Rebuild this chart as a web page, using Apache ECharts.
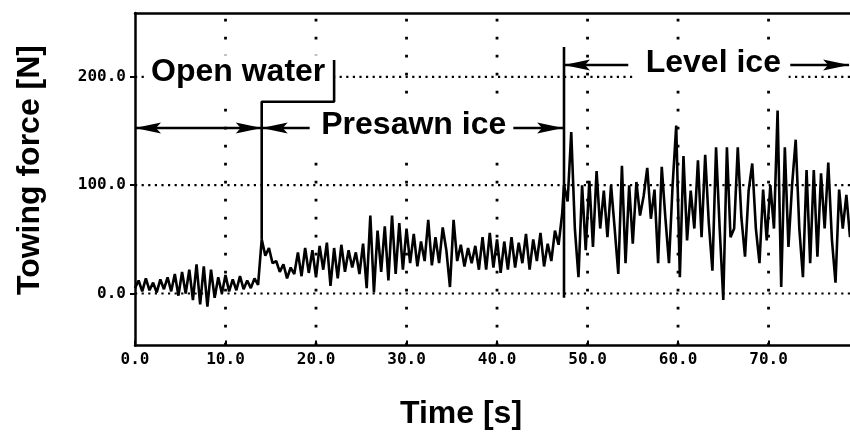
<!DOCTYPE html>
<html>
<head>
<meta charset="utf-8">
<script src="https://cdn.jsdelivr.net/npm/echarts@6/dist/echarts.min.js"></script>
<style>
  html, body { margin: 0; padding: 0; background: #fff; }
  #chart { width: 850px; height: 442px; }
</style>
</head>
<body>
<div id="chart"></div>
<script>
// Towing force record of one model run: open water, presawn ice, level ice.
// Samples are spaced SAMPLE_STEP seconds apart, starting at each phase's start time.
const SAMPLE_STEP = 0.4; // s

const openWaterStart = 0.0;
const openWaterForce = [
  5, 12, 2, 14, 3, 10, 1, 13, 4, 15,
  2, 18, -2, 20, 0, 22, -6, 27, -10, 25,
  -12, 22, -4, 15, 0, 17, 2, 13, 3, 16,
  4, 12, 5, 14, 8
];

const presawnStart = 14.0;
const presawnForce = [
  50, 35, 42, 28, 30, 20, 27, 14, 24, 18,
  38, 16, 42, 19, 40, 15, 44, 22, 47, 7,
  42, 14, 45, 20, 40, 24, 38, 18, 46, 5,
  72, 1, 58, 20, 62, 12, 72, 18, 65, 22,
  60, 28, 55, 25, 48, 30, 68, 26, 52, 28,
  61, 40, 6, 68, 30, 45, 25, 42, 28, 44,
  22, 52, 22, 56, 24, 50, 19, 48, 22, 52,
  24, 47, 28, 55, 22, 50, 30, 56, 25, 46,
  30, 58, 45, 74
];

const levelIceStart = 47.4;
const levelIceForce = [
  100, 85, 149, 60, 15, 100, 40, 104, 43, 113,
  60, 95, 52, 100, 60, 18, 118, 28, 100, 46,
  103, 72, 90, 116, 69, 96, 28, 117, 70, 28,
  100, 155, 15, 127, 49, 95, 60, 123, 52, 128,
  65, 21, 135, 60, -6, 135, 52, 60, 135, 70,
  34, 95, 120, 60, 28, 96, 49, 100, 60, 169,
  6, 135, 43, 100, 142, 60, 15, 114, 28, 114,
  34, 111, 60, 121, 50, 10, 96, 60, 91, 52
];

// Axes (time in s, force in N)
const timeRange = [0, 79];
const forceRange = [-48, 259];
const timeTicks = [0, 10, 20, 30, 40, 50, 60, 70];
const forceTicks = [0, 100, 200];

// Phase annotations, in data units
const phaseLabels = ['Open water', 'Presawn ice', 'Level ice'];
const phaseLabelAt = [[11.4, 204.5], [30.8, 155.6], [63.9, 212.8]];
// [from s, to s, force level, head at start, head at end]
const phaseArrows = [
  [0.0, 14.0, 152.8, 1, 1],
  [14.0, 19.3, 152.8, 1, 0],
  [41.8, 47.3, 152.8, 0, 1],
  [47.4, 54.5, 211.0, 1, 0],
  [72.4, 78.9, 211.0, 0, 1]
];
// blank panels behind the phase labels: [s1, N1, s2, N2]
const labelPanels = [
  [1.3, 220.0, 22.0, 176.5],
  [19.6, 175.9, 41.7, 130.5],
  [55.0, 234.0, 72.2, 189.8]
];
const openWaterEdge = [[14.0, 50], [14.0, 177], [22.0, 177], [22.0, 215.6]];
const levelIceMarker = [[47.4, -4], [47.4, 227.6]];

function toPairs(start, values) {
  return values.map((v, i) => [+(start + i * SAMPLE_STEP).toFixed(2), v]);
}
const forceSeries = []
  .concat(toPairs(openWaterStart, openWaterForce))
  .concat(toPairs(presawnStart, presawnForce))
  .concat(toPairs(levelIceStart, levelIceForce));

const INK = '#000';
const tickFont = { fontFamily: '"DejaVu Sans Mono", "Liberation Mono", monospace', fontWeight: 'bold', fontSize: 16, color: INK };
const labelFontFamily = '"Liberation Sans", Arial, Helvetica, sans-serif';

// dotted reference lines: horizontal at force ticks, vertical at time ticks
const gridLineData = forceTicks.map(v => [0, v]).concat(timeTicks.filter(t => t > 0).map(t => [1, t]));

const chart = echarts.init(document.getElementById('chart'), null, { renderer: 'canvas' });
chart.setOption({
  animation: false,
  backgroundColor: '#fff',
  grid: { left: 135, right: 0, top: 13, bottom: 96.5, containLabel: false },
  xAxis: [
    {
      type: 'value', min: timeRange[0], max: timeRange[1], position: 'bottom',
      axisLine: { show: true, onZero: false, lineStyle: { color: INK, width: 2.5 } },
      axisTick: { show: true, inside: true, length: 5, customValues: timeTicks, lineStyle: { color: INK, width: 2 } },
      axisLabel: Object.assign({ customValues: timeTicks, margin: 6, formatter: v => v.toFixed(1) }, tickFont),
      splitLine: { show: false }
    },
    {
      type: 'value', min: timeRange[0], max: timeRange[1], position: 'top',
      axisLine: { show: true, onZero: false, lineStyle: { color: INK, width: 2.5 } },
      axisTick: { show: false }, axisLabel: { show: false }, splitLine: { show: false }
    }
  ],
  yAxis: {
    type: 'value', min: forceRange[0], max: forceRange[1],
    axisLine: { show: true, onZero: false, lineStyle: { color: INK, width: 2.5 } },
    axisTick: { show: true, length: 5, customValues: forceTicks, lineStyle: { color: INK, width: 2 } },
    axisLabel: Object.assign({ customValues: forceTicks, margin: 9, formatter: v => v.toFixed(1) }, tickFont),
    splitLine: { show: false }
  },
  graphic: [
    {
      type: 'text', x: 461, y: 414, z: 10,
      style: { text: 'Time [s]', font: 'bold 32px ' + labelFontFamily, fill: INK, align: 'center', verticalAlign: 'middle', textAlign: 'center', textVerticalAlign: 'middle' }
    },
    {
      type: 'text', x: 30, y: 170, rotation: Math.PI / 2, z: 10,
      style: { text: 'Towing force [N]', font: 'bold 32px ' + labelFontFamily, fill: INK, align: 'center', verticalAlign: 'middle', textAlign: 'center', textVerticalAlign: 'middle' }
    }
  ],
  series: [
    {
      name: 'reference lines', type: 'custom', z: 1, silent: true,
      data: gridLineData,
      renderItem: (params, api) => {
        const horizontal = api.value(0) === 0;
        const v = api.value(1);
        let a, b;
        if (horizontal) { a = api.coord([timeRange[0], v]); b = api.coord([timeRange[1], v]); }
        else { a = api.coord([v, forceRange[0]]); b = api.coord([v, forceRange[1]]); }
        return {
          type: 'line',
          shape: { x1: a[0], y1: a[1], x2: b[0], y2: b[1] },
          style: horizontal
            ? { stroke: INK, lineWidth: 2.2, lineDash: [2.2, 4.4] }
            : { stroke: INK, lineWidth: 2.8, lineDash: [2.8, 15.2] }
        };
      }
    },
    {
      name: 'label panels', type: 'custom', z: 2, silent: true,
      data: labelPanels,
      renderItem: (params, api) => {
        const p1 = api.coord([api.value(0), api.value(1)]);
        const p2 = api.coord([api.value(2), api.value(3)]);
        return {
          type: 'rect',
          shape: { x: Math.min(p1[0], p2[0]), y: Math.min(p1[1], p2[1]), width: Math.abs(p2[0] - p1[0]), height: Math.abs(p2[1] - p1[1]) },
          style: { fill: '#fff' }
        };
      }
    },
    {
      name: 'Towing force', type: 'line', z: 3,
      data: forceSeries,
      showSymbol: false, symbol: 'none',
      lineStyle: { color: INK, width: 2.6 }
    },
    {
      name: 'open water edge', type: 'line', z: 4,
      data: openWaterEdge, showSymbol: false, symbol: 'none',
      lineStyle: { color: INK, width: 2.6 }
    },
    {
      name: 'level ice marker', type: 'line', z: 4,
      data: levelIceMarker, showSymbol: false, symbol: 'none',
      lineStyle: { color: INK, width: 2.6 }
    },
    {
      name: 'phase arrows', type: 'custom', z: 5, silent: true,
      data: phaseArrows,
      renderItem: (params, api) => {
        const a = api.coord([api.value(0), api.value(2)]);
        const b = api.coord([api.value(1), api.value(2)]);
        const kids = [{
          type: 'line', shape: { x1: a[0], y1: a[1], x2: b[0], y2: b[1] },
          style: { stroke: INK, lineWidth: 2.6 }
        }];
        if (api.value(3)) {
          kids.push({ type: 'polygon', shape: { points: [[a[0], a[1]], [a[0] + 26, a[1] - 5.5], [a[0] + 21, a[1]], [a[0] + 26, a[1] + 5.5]] }, style: { fill: INK } });
        }
        if (api.value(4)) {
          kids.push({ type: 'polygon', shape: { points: [[b[0], b[1]], [b[0] - 26, b[1] - 5.5], [b[0] - 21, b[1]], [b[0] - 26, b[1] + 5.5]] }, style: { fill: INK } });
        }
        return { type: 'group', children: kids };
      }
    },
    {
      name: 'phase labels', type: 'custom', z: 6, silent: true,
      data: phaseLabelAt,
      renderItem: (params, api) => {
        const p = api.coord([api.value(0), api.value(1)]);
        return {
          type: 'text', x: p[0], y: p[1],
          style: { text: phaseLabels[params.dataIndex], font: 'bold 32px ' + labelFontFamily, fill: INK, align: 'center', verticalAlign: 'middle', textAlign: 'center', textVerticalAlign: 'middle' }
        };
      }
    }
  ]
});
</script>
</body>
</html>
